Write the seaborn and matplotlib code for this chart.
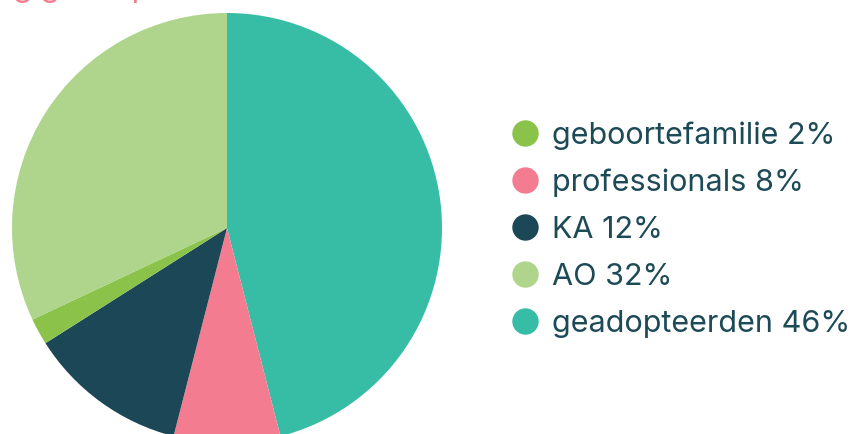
import matplotlib
matplotlib.use("Agg")
import matplotlib.pyplot as plt
from matplotlib.lines import Line2D
import seaborn as sns

# Data (clockwise from top)
categories = ["geadopteerden", "professionals", "KA", "geboortefamilie", "AO"]
values = [46, 8, 12, 2, 32]
colors = ["#37BCA6", "#F47C91", "#1C4756", "#8BC34A", "#AED58B"]
legend_order = ["geboortefamilie", "professionals", "KA", "AO", "geadopteerden"]
title_text = "ing geadopteerden"

sns.set_theme(style="white")
plt.rcParams["font.family"] = ["Inter", "DejaVu Sans"]

W, H = 855, 434
fig = plt.figure(figsize=(W / 100, H / 100), dpi=100)

cx, cy, r = 227, 228, 215
ax = fig.add_axes([(cx - r) / W, (H - cy - r) / H, 2 * r / W, 2 * r / H])
ax.pie(values, colors=colors, startangle=90, counterclock=False,
       wedgeprops=dict(linewidth=0))
ax.set_xlim(-1, 1)
ax.set_ylim(-1, 1)
ax.set_aspect("equal")
ax.axis("off")

# Partially clipped title (only descenders visible, as in the reference)
fig.text(-12 / W, 1.0 + 3 / H, title_text, color="#F47C91", fontsize=22,
         ha="left", va="baseline")

cmap = dict(zip(categories, colors))
vmap = dict(zip(categories, values))
handles = [Line2D([0], [0], marker="o", linestyle="", markersize=19,
                  markerfacecolor=cmap[c], markeredgewidth=0) for c in legend_order]
labels = [f"{c} {vmap[c]}%" for c in legend_order]
fig.legend(handles, labels, loc="center left", bbox_to_anchor=(497 / W, 1 - 229.5 / H),
           frameon=False, fontsize=22, labelcolor="#1D4A57", handletextpad=0.4,
           labelspacing=0.62, handlelength=1.0, borderaxespad=0)

fig.savefig("out.png", dpi=100)
